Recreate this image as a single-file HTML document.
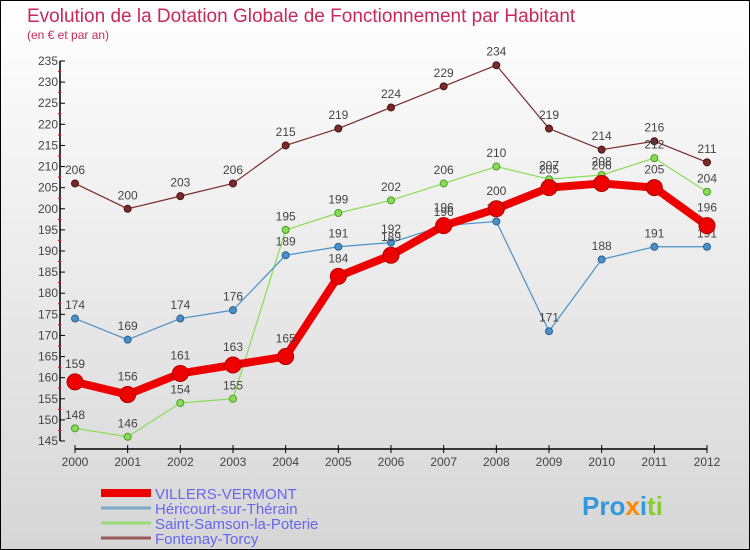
<!DOCTYPE html>
<html><head><meta charset="utf-8"><style>
html,body{margin:0;padding:0}
body{width:750px;height:550px;overflow:hidden;font-family:"Liberation Sans",sans-serif}
#frame{position:absolute;left:0;top:0;width:748px;height:548px;border:1px solid #000;background:linear-gradient(#ffffff,#d6d6d6)}
</style></head><body>
<div id="frame"></div>
<svg id="chart" width="750" height="550" style="position:absolute;left:0;top:0">
<text x="27" y="22" font-size="19" fill="#c8285a">Evolution de la Dotation Globale de Fonctionnement par Habitant</text>
<text x="27" y="39" font-size="12" fill="#c8285a">(en € et par an)</text>
</svg>
<script>
const years=[2000,2001,2002,2003,2004,2005,2006,2007,2008,2009,2010,2011,2012];
const villers=[159,156,161,163,165,184,189,196,200,205,206,205,196];
const hericourt=[174,169,174,176,189,191,192,196,197,171,188,191,191];
const samson=[148,146,154,155,195,199,202,206,210,207,208,212,204];
const fontenay=[206,200,203,206,215,219,224,229,234,219,214,216,211];
const yTicks=[145,150,155,160,165,170,175,180,185,190,195,200,205,210,215,220,225,230,235];
const seriesNames=["VILLERS-VERMONT","Héricourt-sur-Thérain","Saint-Samson-la-Poterie","Fontenay-Torcy"];

const svg=document.getElementById('chart');
const NS='http://www.w3.org/2000/svg';
function x(i){return 75+i*(707-75)/12;}
function y(v){return 441-(v-145)*(380/90);}
function mk(t,a){const e=document.createElementNS(NS,t);for(const k in a)e.setAttribute(k,a[k]);svg.appendChild(e);return e;}

let ax=mk('line',{x1:60,y1:y(235),x2:60,y2:y(145),stroke:'#000','stroke-width':1.5});


yTicks.forEach((v,k)=>{
  const t=mk('line',{x1:60,y1:y(v),x2:65,y2:y(v),stroke:'#000'});
  
  
  if(k<yTicks.length-1){
    const m=mk('line',{x1:58,y1:y(v+2.5),x2:61,y2:y(v+2.5),stroke:'#e00'});
    
    
  }
  const l=mk('text',{x:58,y:y(v)+4,'text-anchor':'end','font-size':12,fill:'#444'});
  l.textContent=v;
  
  
});
let xa=mk('line',{x1:x(0),y1:449,x2:x(12),y2:449,stroke:'#000','stroke-width':1.5});


years.forEach((yr,i)=>{
  const t=mk('line',{x1:x(i),y1:445,x2:x(i),y2:453,stroke:'#000'});
  
  
  const l=mk('text',{x:x(i),y:466,'text-anchor':'middle','font-size':12,fill:'#444'});
  l.textContent=yr;
  
  
});

function series(vals,color,dark,lw,r,name){
  const pts=vals.map((v,i)=>x(i)+','+y(v)).join(' ');
  const p=mk('polyline',{points:pts,fill:'none',stroke:color,'stroke-width':lw,'stroke-linejoin':'round'});
  
  
  vals.forEach((v,i)=>{
    const c=mk('circle',{cx:x(i),cy:y(v),r:r,fill:color,stroke:dark,'stroke-width':1});
    
    
    const t=mk('text',{x:x(i),y:y(v)-r-6,'text-anchor':'middle','font-size':12,fill:'#444'});
    t.textContent=v;
    
    
  });
}
series(fontenay,'#7a2a2a','#4a1010',1.2,3.5,'fontenay-torcy');
series(samson,'#88dd55','#4a9a2a',1.2,3.5,'saint-samson');
series(hericourt,'#4a90c8','#2a6090',1.2,3.5,'hericourt');
series(villers,'#ee0000','#b00000',8,8,'villers-vermont');

const lc=['#ee0000','#7aaac8','#99dd77','#9a5a5a'];
const lw=[8,3,3,3];
seriesNames.forEach((n,i)=>{
  const yy=493+i*15;
  const l=mk('line',{x1:101,y1:yy,x2:151,y2:yy,stroke:lc[i],'stroke-width':lw[i]});
  
  
  const t=mk('text',{x:155,y:yy+6,'font-size':15,fill:'#6666ee'});
  t.textContent=n;
  
  
});
const logo=mk('text',{x:582,y:515,'font-size':26,'font-weight':'bold',fill:'#3399dd'});
logo.innerHTML='<tspan fill="#3399dd">Pro</tspan><tspan fill="#ff8800">x</tspan><tspan fill="#3399dd">i</tspan><tspan fill="#88cc33">ti</tspan>';


</script>
</body></html>
